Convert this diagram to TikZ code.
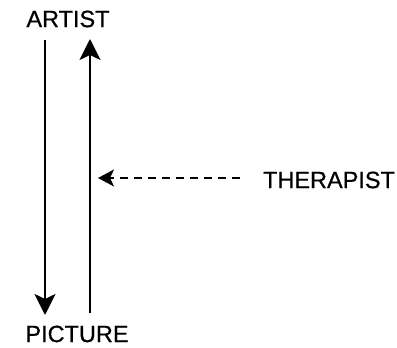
\documentclass[tikz,border=0pt]{standalone}
\usepackage{fontspec}
\setmainfont[FakeBold=0.6]{Liberation Sans}
\usetikzlibrary{arrows.meta}
\begin{document}
\begin{tikzpicture}[x=1pt,y=-1pt,
  label/.style={font=\fontsize{23.5}{25}\selectfont, inner sep=0pt, anchor=center},
  flow/.style={line width=2.2pt, -{Stealth[length=21pt,width=21pt,inset=5pt]}},
  hint/.style={line width=1.6pt, dash pattern=on 8pt off 6pt, -{Stealth[length=16pt,width=17pt,inset=4pt]}}]
  \useasboundingbox (0,0) rectangle (397,348);
  \node[label] (artist) at (68,19) {ARTIST};
  \node[label] (picture) at (77,334) {PICTURE};
  \node[label] (therapist) at (329,180) {THERAPIST};
  \coordinate (dtop) at (45,40);
  \coordinate (dbot) at (45,315);
  \coordinate (utop) at (90,39);
  \coordinate (ubot) at (90,313);
  \coordinate (hit) at (98,178);
  \coordinate (hstart) at (240,178);
  \draw[flow] (dtop) -- (dbot);
  \draw[flow] (ubot) -- (utop);
  \draw[hint] (hstart) -- (hit);
\end{tikzpicture}
\end{document}
